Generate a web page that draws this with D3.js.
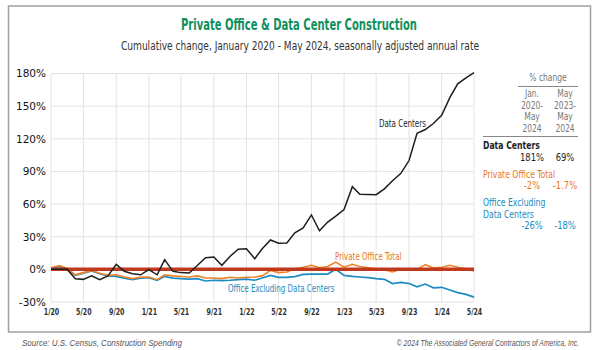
<!DOCTYPE html>
<html>
<head>
<meta charset="utf-8">
<script src="https://cdn.jsdelivr.net/npm/d3@7"></script>
<style>
  body { margin: 0; background: #fff; }
  .narrow { font-family: "Liberation Sans Narrow", "DejaVu Sans Condensed", sans-serif; }
  .grid line { stroke: #e3e3e3; stroke-width: 1; }
</style>
</head>
<body>
<div id="chart"></div>
<script>
// Cumulative % change since Jan 2020, monthly, Jan 2020 - May 2024

const startMonth = new Date(2020, 0, 1);

const dataCenters = [
  0, 0, 0, -8.6, -9.2, -6, -9.5, -6, 4.6, -1.8, -4, -5,
  -0.3, -5, 8.9, -1.8, -3, -3.4, 3.5, 10.7, 11.3, 3.7, 12, 18.5,
  19, 9.8, 19, 27, 24, 24.3, 33.6, 38, 50, 35.5, 43.5, 49,
  55, 76, 69, 68.8, 68.6, 74, 81.5, 88, 100, 125, 128.5, 134,
  141.5, 158, 170.5, 176, 180.8
];

const officeTotal = [
  1.5, 3.5, 1, -5, -3, -1, -3.5, -5.5, -5, -7, -8.5, -7.3,
  -7, -9.5, -5, -6, -6.5, -7, -6, -8, -8, -8.5, -7.3, -8,
  -7.3, -7, -6, -1, -3, -2.4, 0.6, 2, 3.7, 1.5, 2.7, 6.7,
  2, 4.6, 2.7, 1.5, 0.6, -0.3, -2.4, 0, 0, 0, 4.3, 1.2,
  2, 3.7, 2, 0.5, -1.5
];

const officeExDC = [
  0, 2.7, 0, -5.5, -3.5, -1.5, -4, -6, -6.4, -8, -9.5, -8,
  -7.6, -10, -6.4, -8, -8.6, -9, -8.5, -10.7, -10, -10.3, -10, -9.5,
  -9, -10, -8, -5.5, -7.3, -7.3, -6.7, -4.6, -4.3, -4.3, -4.3, 0,
  -5.5, -6.4, -7, -7.6, -8.5, -9.2, -13, -12, -13, -16, -13.5, -17,
  -16.5, -19, -21.4, -23, -25.5
];

const yTicks = [-30, 0, 30, 60, 90, 120, 150, 180];
const xTickMonths = d3.range(0, 53, 4);

const tableHead1 = ["Jan.", "2020-", "May", "2024"];
const tableHead2 = ["May", "2023-", "May", "2024"];
const tableRows = [
  { name: ["Data Centers"], full: "181%", recent: "69%", color: "#1e1e1e", bold: true },
  { name: ["Private Office Total"], full: "-2%", recent: "-1.7%", color: "#e8771f", bold: false },
  { name: ["Office Excluding", "Data Centers"], full: "-26%", recent: "-18%", color: "#1a8cc2", bold: false }
];

const W = 600, H = 350;
const margin = { top: 73.5, left: 51 };
const width = 423;
const height = 228.5;

// no condensed gothic installed, so squeeze the narrow texts to roughly the original widths
function condense(sel, k) {
  sel.each(function() {
    const w = this.getComputedTextLength();
    d3.select(this)
      .attr("textLength", w * k)
      .attr("lengthAdjust", "spacingAndGlyphs");
  });
}

const root = d3.select("#chart")
  .append("svg")
  .attr("width", W)
  .attr("height", H);

// frame
root.append("rect")
  .attr("x", 8.5).attr("y", 6)
  .attr("width", 582).attr("height", 326)
  .attr("fill", "none")
  .attr("stroke", "#a0a0a0")
  .attr("stroke-width", 1.5);

// titles
root.append("text")
  .attr("class", "narrow")
  .attr("x", 299).attr("y", 29.5)
  .attr("text-anchor", "middle")
  .attr("font-size", 16.5)
  .attr("font-weight", "bold")
  .attr("fill", "#0f8f5e")
  .text("Private Office & Data Center Construction")
  .attr("textLength", 236)
  .attr("lengthAdjust", "spacingAndGlyphs");

root.append("text")
  .attr("class", "narrow")
  .attr("x", 300).attr("y", 50)
  .attr("text-anchor", "middle")
  .attr("font-size", 12)
  .attr("fill", "#333")
  .text("Cumulative change, January 2020 - May 2024, seasonally adjusted annual rate")
  .attr("textLength", 358)
  .attr("lengthAdjust", "spacingAndGlyphs");

const svg = root.append("g")
  .attr("transform", `translate(${margin.left},${margin.top})`);

const months = dataCenters.map((d, i) => d3.timeMonth.offset(startMonth, i));

const x = d3.scaleTime()
  .domain([startMonth, months[months.length - 1]])
  .range([0, width]);

const y = d3.scaleLinear()
  .domain([-30, 180])
  .range([height, 0]);

const xTickDates = xTickMonths.map(m => d3.timeMonth.offset(startMonth, m));

// grid
const grid = svg.append("g").attr("class", "grid");
grid.selectAll(".h")
  .data(yTicks)
  .enter().append("line")
  .attr("x1", 0).attr("x2", width)
  .attr("y1", d => y(d)).attr("y2", d => y(d));
grid.selectAll(".v")
  .data(xTickDates)
  .enter().append("line")
  .attr("x1", d => x(d)).attr("x2", d => x(d))
  .attr("y1", 0).attr("y2", height);

// axes
const yAxis = svg.append("g")
  .call(d3.axisLeft(y).tickValues(yTicks).tickSize(0).tickPadding(5).tickFormat(d => d + "%"));
yAxis.select(".domain").remove();
yAxis.selectAll("text")
  .attr("font-family", "DejaVu Sans, sans-serif")
  .attr("font-size", 10.5)
  .attr("fill", "#111");

const xAxis = svg.append("g")
  .attr("transform", `translate(0,${height})`)
  .call(d3.axisBottom(x).tickValues(xTickDates).tickSize(0).tickPadding(7).tickFormat(d3.timeFormat("%-m/%y")));
xAxis.select(".domain").remove();
xAxis.selectAll("text")
  .attr("class", "narrow")
  .attr("font-family", null)
  .attr("font-size", 9)
  .attr("font-weight", "bold")
  .attr("fill", "#333")
  .call(condense, 0.78);

const line = d3.line()
  .x((d, i) => x(months[i]))
  .y(d => y(d));

svg.append("path")
  .datum(officeExDC)
  .attr("fill", "none")
  .attr("stroke", "#1a8cc2")
  .attr("stroke-width", 1.7)
  .attr("d", line);

svg.append("path")
  .datum(officeTotal)
  .attr("fill", "none")
  .attr("stroke", "#ef8126")
  .attr("stroke-width", 1.6)
  .attr("d", line);

// zero line
svg.append("line")
  .attr("x1", 0).attr("x2", width)
  .attr("y1", y(0)).attr("y2", y(0))
  .attr("stroke", "#c0391d")
  .attr("stroke-width", 3.5);

svg.append("path")
  .datum(dataCenters)
  .attr("fill", "none")
  .attr("stroke", "#1e1e1e")
  .attr("stroke-width", 1.5)
  .attr("d", line);

// line labels (month index, value)
const monthStep = width / (months.length - 1);
const labels = [
  { text: "Data Centers", month: 43.2, value: 130.5, color: "#1e1e1e" },
  { text: "Private Office Total", month: 39, value: 8.3, color: "#e8771f" },
  { text: "Office Excluding Data Centers", month: 28.3, value: -21.2, color: "#1a8cc2" }
];
svg.selectAll(".lbl")
  .data(labels)
  .enter().append("text")
  .attr("class", "narrow")
  .attr("x", d => x(startMonth) + d.month * monthStep)
  .attr("y", d => y(d.value))
  .attr("text-anchor", "middle")
  .attr("font-size", 10)
  .attr("fill", d => d.color)
  .text(d => d.text)
  .call(condense, 0.79);

// right-hand table
const table = root.append("g").attr("class", "narrow");
const col1 = 532, col2 = 565;

table.append("text")
  .attr("x", 548).attr("y", 81)
  .attr("text-anchor", "middle")
  .attr("font-size", 10.5)
  .attr("fill", "#777")
  .text("% change")
  .call(condense, 0.8);
table.append("line")
  .attr("x1", 518).attr("x2", 578).attr("y1", 86.5).attr("y2", 86.5)
  .attr("stroke", "#888").attr("stroke-width", 1);

[[tableHead1, col1], [tableHead2, col2]].forEach(([lines, cx]) => {
  lines.forEach((t, i) => {
    table.append("text")
      .attr("x", cx).attr("y", 97 + i * 11.7)
      .attr("text-anchor", "middle")
      .attr("font-size", 10.5)
      .attr("fill", "#777")
      .text(t)
      .call(condense, 0.8);
  });
});
table.append("line")
  .attr("x1", 483).attr("x2", 578).attr("y1", 136.5).attr("y2", 136.5)
  .attr("stroke", "#888").attr("stroke-width", 1);

let rowY = 149;
tableRows.forEach(r => {
  r.name.forEach(n => {
    table.append("text")
      .attr("x", 483).attr("y", rowY)
      .attr("font-size", 11)
      .attr("font-weight", r.bold ? "bold" : "normal")
      .attr("fill", r.color)
      .text(n)
      .call(condense, 0.78);
    rowY += 11.5;
  });
  table.append("text")
    .attr("x", col1).attr("y", rowY)
    .attr("text-anchor", "middle")
    .attr("font-size", 11)
    .attr("fill", r.color)
    .text(r.full)
    .call(condense, 0.85);
  table.append("text")
    .attr("x", col2).attr("y", rowY)
    .attr("text-anchor", "middle")
    .attr("font-size", 11)
    .attr("fill", r.color)
    .text(r.recent)
    .call(condense, 0.85);
  rowY += 17;
});

// footer
root.append("text")
  .attr("x", 22).attr("y", 346)
  .attr("font-family", "Liberation Sans, sans-serif")
  .attr("font-style", "italic")
  .attr("font-size", 8.5)
  .attr("fill", "#555")
  .text("Source: U.S. Census, Construction Spending")
  .attr("textLength", 160)
  .attr("lengthAdjust", "spacingAndGlyphs");

root.append("text")
  .attr("transform", "translate(579,346) scale(0.8,1)")
  .attr("text-anchor", "end")
  .attr("font-family", "Liberation Sans, sans-serif")
  .attr("font-style", "italic")
  .attr("font-size", 8.5)
  .attr("fill", "#555")
  .text("\u00a9 2024 The Associated General Contractors of America, Inc.");
</script>
</body>
</html>
